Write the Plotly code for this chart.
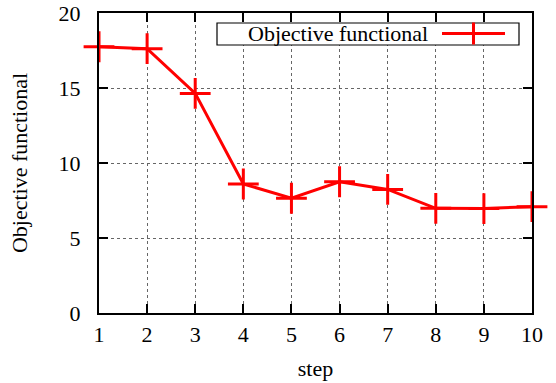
import plotly.graph_objects as go

steps = [1, 2, 3, 4, 5, 6, 7, 8, 9, 10]
objective = [17.75, 17.62, 14.64, 8.6, 7.65, 8.75, 8.24, 6.98, 6.96, 7.09]
x_ticks = [1, 2, 3, 4, 5, 6, 7, 8, 9, 10]
y_ticks = [0, 5, 10, 15, 20]
series_name = "Objective functional"

W, H = 556, 383
L, R, T, B = 99, 24, 13, 70
pw, ph = W - L - R, H - T - B

def px(x):
    return (x - L) / pw

def py(y):
    return (H - B - y) / ph

FONT = "Liberation Serif, Times New Roman, serif"
FS = 22
RED = "#ff0000"

fig = go.Figure()
fig.add_trace(go.Scatter(
    x=steps, y=objective, mode="lines+markers", name=series_name,
    line=dict(color=RED, width=3),
    marker=dict(symbol="cross-thin-open", size=22, line=dict(color=RED, width=3)),
    cliponaxis=False, showlegend=False,
))

# gnuplot-style key: text then sample on the right
fig.add_shape(type="rect", xref="paper", yref="paper",
              x0=px(217), x1=px(519), y0=py(45), y1=py(23),
              line=dict(color="black", width=1.2), fillcolor="white", layer="above")
fig.add_annotation(text=series_name, xref="paper", yref="paper",
                   x=px(430), y=py(34), xanchor="right", yanchor="middle",
                   showarrow=False, font=dict(family=FONT, size=FS, color="black"))
fig.add_shape(type="line", xref="paper", yref="paper",
              x0=px(442), x1=px(505), y0=py(33.5), y1=py(33.5),
              line=dict(color=RED, width=3), layer="above")
fig.add_shape(type="line", xref="paper", yref="paper",
              x0=px(473.5), x1=px(473.5), y0=py(22.5), y1=py(44.5),
              line=dict(color=RED, width=3), layer="above")

axis_common = dict(
    showline=True, linecolor="black", linewidth=2, mirror="ticks",
    ticks="inside", ticklen=9, tickwidth=1.5, tickcolor="black",
    showgrid=True, gridcolor="#666666", griddash="dot", gridwidth=1,
    zeroline=False, tickfont=dict(family=FONT, size=FS, color="black"),
    automargin=False,
)

fig.update_xaxes(range=[1, 10], tickvals=x_ticks, ticklabelstandoff=1, **axis_common,
                 title=dict(text="step", font=dict(family=FONT, size=FS, color="black"), standoff=14))
fig.update_yaxes(range=[0, 20], tickvals=y_ticks, ticklabelstandoff=12, **axis_common,
                 title=dict(text=series_name, font=dict(family=FONT, size=FS, color="black"), standoff=25))

fig.update_layout(
    width=W, height=H, margin=dict(l=L, r=R, t=T, b=B),
    plot_bgcolor="white", paper_bgcolor="white", showlegend=False,
)

fig.write_html("out.html", config={"displayModeBar": False},
               post_script="document.body.style.margin='0';document.body.style.overflow='hidden';")
